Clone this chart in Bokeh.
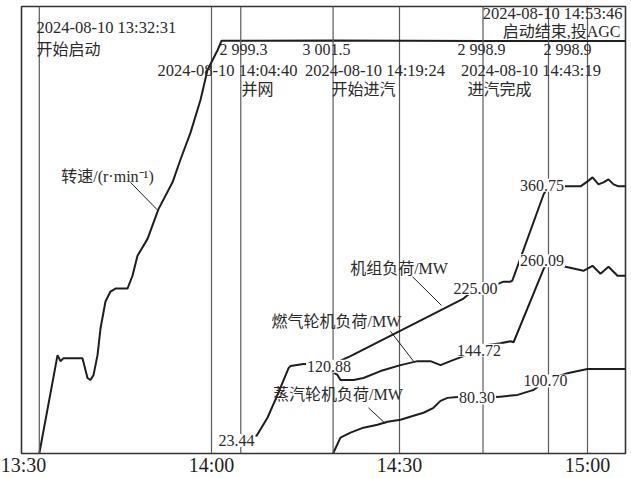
from bokeh.plotting import figure
from bokeh.models import Range1d, FixedTicker, Span, Label
from bokeh.embed import file_html
from bokeh.resources import INLINE

FONT = "'Liberation Serif', 'Noto Sans CJK SC'"
INK = "#1e1e1e"
GRID = "#5a5a5a"

# ---------------- data (time = minutes after 13:30) ----------------
tick_minutes = [0, 30, 60, 90]
tick_labels = ["13:30", "14:00", "14:30", "15:00"]

event_minutes = [2.52, 34.67, 49.40, 73.32, 83.77]   # 13:32:31, 14:04:40, 14:19:24, 14:43:19, 14:53:46
event_times = ["2024-08-10 13:32:31", "2024-08-10 14:04:40", "2024-08-10 14:19:24",
               "2024-08-10 14:43:19", "2024-08-10 14:53:46"]
event_names = ["开始启动", "并网", "开始进汽", "进汽完成", "启动结束,投AGC"]

speed_t = [2.52, 5.43, 5.90, 6.38, 9.41, 10.21, 10.69, 11.17, 11.81, 12.29, 13.08, 13.88,
           14.68, 16.59, 17.39, 18.19, 19.79, 21.54, 23.78, 25.05, 26.65, 28.24, 29.36,
           30.96, 31.59, 49.40, 73.32, 83.77, 96.06]
speed_v = [0, 715, 671, 693, 693, 549, 534, 570, 715, 910, 1105, 1177,
           1199, 1199, 1292, 1437, 1560, 1776, 1971, 2137, 2332, 2570, 2787,
           2931, 2999.3, 3001.5, 2998.9, 2998.9, 2999.0]
speed_marks = ["2 999.3", "3 001.5", "2 998.9", "2 998.9"]

gas_t = [34.67, 37.2, 38.93, 40.53, 42.29, 42.6, 44.68, 47.0, 50.1, 50.58, 52.66, 54.25,
         56.97, 60.16, 62.87, 64.94, 66.54, 68.13, 70.21, 71.33, 72.68, 76.1, 77.7, 78.2,
         83.0, 83.77, 86.49, 89.36, 90.79, 92.07, 93.35, 94.78, 96.06]
gas_v = [23.44, 24.0, 48.3, 79.1, 115.3, 118.0, 120.88, 120.88, 106.0, 99.2, 99.2, 101.9,
         111.3, 119.3, 124.7, 124.7, 119.3, 124.7, 131.4, 135.4, 144.72, 148.9, 151.5, 150.2,
         249.4, 260.09, 252.1, 246.7, 253.4, 242.7, 252.1, 240.0, 240.0]

unit_t = [49.40, 52.18, 70.21, 72.5, 75.8, 76.6, 77.7, 78.0, 83.0, 83.77, 86.5, 88.9,
          90.0, 90.8, 91.75, 92.55, 93.35, 94.15, 94.95, 96.06]
unit_v = [120.88, 131.4, 209.2, 225.0, 229.3, 232.0, 232.0, 233.3, 350.0, 360.75, 360.7, 360.7,
          367.4, 372.8, 363.4, 366.1, 370.1, 363.4, 360.7, 360.7]

steam_t = [49.40, 50.58, 52.18, 54.25, 56.49, 58.08, 60.16, 62.23, 63.83, 65.42, 66.54,
           67.66, 69.25, 72.36, 75.63, 78.83, 80.9, 81.38, 83.77, 86.97, 90.0, 96.06]
steam_v = [0, 21.5, 28.2, 34.9, 38.9, 42.9, 45.6, 51.0, 55.0, 61.7, 71.1,
           75.1, 76.4, 80.30, 76.4, 79.1, 84.5, 85.8, 100.70, 108.6, 114.0, 114.0]

value_marks = ["23.44", "120.88", "144.72", "225.00", "260.09", "360.75", "80.30", "100.70"]
series_names = ["转速/(r·min⁻¹)", "机组负荷/MW", "燃气轮机负荷/MW", "蒸汽轮机负荷/MW"]

# ---------------- figure ----------------
p = figure(width=631, height=478, output_backend="svg", toolbar_location=None,
           x_range=Range1d(-0.32, 96.06), y_range=Range1d(0, 3249),
           min_border_left=21, min_border_right=6, min_border_top=6, min_border_bottom=0)
p.extra_y_ranges = {"load": Range1d(0, 603.5)}
p.background_fill_color = "white"
p.border_fill_color = "white"
p.outline_line_color = "#333333"
p.outline_line_width = 1.6

p.yaxis.visible = False
p.ygrid.visible = False
p.xaxis.ticker = FixedTicker(ticks=tick_minutes)
p.xaxis.major_label_overrides = {m: s for m, s in zip(tick_minutes, tick_labels)}
p.xaxis.major_label_text_font = FONT
p.xaxis.major_label_text_font_size = "20px"
p.xaxis.major_label_text_color = INK
p.xaxis.major_label_standoff = 0
p.xaxis.major_tick_out = 0
p.xaxis.major_tick_in = 0
p.xaxis.major_tick_line_color = None
p.xaxis.minor_tick_line_color = None
p.xaxis.axis_line_color = None
p.xgrid.ticker = FixedTicker(ticks=tick_minutes[1:])
p.xgrid.grid_line_color = GRID
p.xgrid.grid_line_width = 1.2

for m in event_minutes:
    p.add_layout(Span(location=m, dimension="height", line_color=GRID, line_width=1.2))

# curves
p.line(speed_t, speed_v, line_color=INK, line_width=2)
p.line(gas_t, gas_v, line_color=INK, line_width=2, y_range_name="load")
p.line(unit_t, unit_v, line_color=INK, line_width=2, y_range_name="load")
p.line(steam_t, steam_v, line_color=INK, line_width=2, y_range_name="load")

# leader lines (x0, y0, x1, y1 in minutes / rpm-axis units)
leaders = [(17.07, 1971, 21.54, 1762), (62.07, 1285, 66.70, 1076),
           (58.56, 888, 62.23, 671), (55.05, 332, 57.76, 217)]
p.segment([l[0] for l in leaders], [l[1] for l in leaders],
          [l[2] for l in leaders], [l[3] for l in leaders], line_color=INK, line_width=1)


def add_text(text, x, y, align="center", size="16px", bg=None, pad=0):
    kw = dict(x=x, y=y, text=text, text_font=FONT, text_font_size=size,
              text_align=align, text_baseline="middle", text_color="#2a2a2a")
    if bg:
        kw.update(background_fill_color=bg, padding=pad)
    p.add_layout(Label(**kw))


DATE = "16.5px"
# event annotations
add_text(event_times[0], 2.07, 3097, "left", DATE)
add_text(event_names[0], 2.07, 2938, "left")
add_text(event_times[1], 32.55, 2787, "center", DATE)
add_text(event_names[1], 37.34, 2643)
add_text(event_times[2], 56.09, 2787, "center", DATE)
add_text(event_names[2], 54.25, 2643)
add_text(event_times[3], 80.98, 2787, "center", DATE)
add_text(event_names[3], 75.95, 2643)
add_text(event_times[4], 95.58, 3198, "right", DATE)
add_text(event_names[4], 95.26, 3068, "right")

# speed values
for s, x in zip(speed_marks, [31.27, 44.52, 69.25, 82.98]):
    add_text(s, x, 2938, "left")

# series names
for s, x, y in zip(series_names, [13.4, 59.92, 49.94, 50.18], [2014, 1343, 960, 426]):
    add_text(s, x, y)

# value labels (white box hides the curve underneath)
value_pos = [(33.99, 94), (48.75, 635), (72.68, 751), (72.12, 1199),
             (82.74, 1401), (82.74, 1949), (72.36, 404), (83.30, 527)]
for s, (x, y) in zip(value_marks, value_pos):
    add_text(s, x, y, bg="white", pad=1)

open("out.html", "w").write(file_html(p, INLINE))
